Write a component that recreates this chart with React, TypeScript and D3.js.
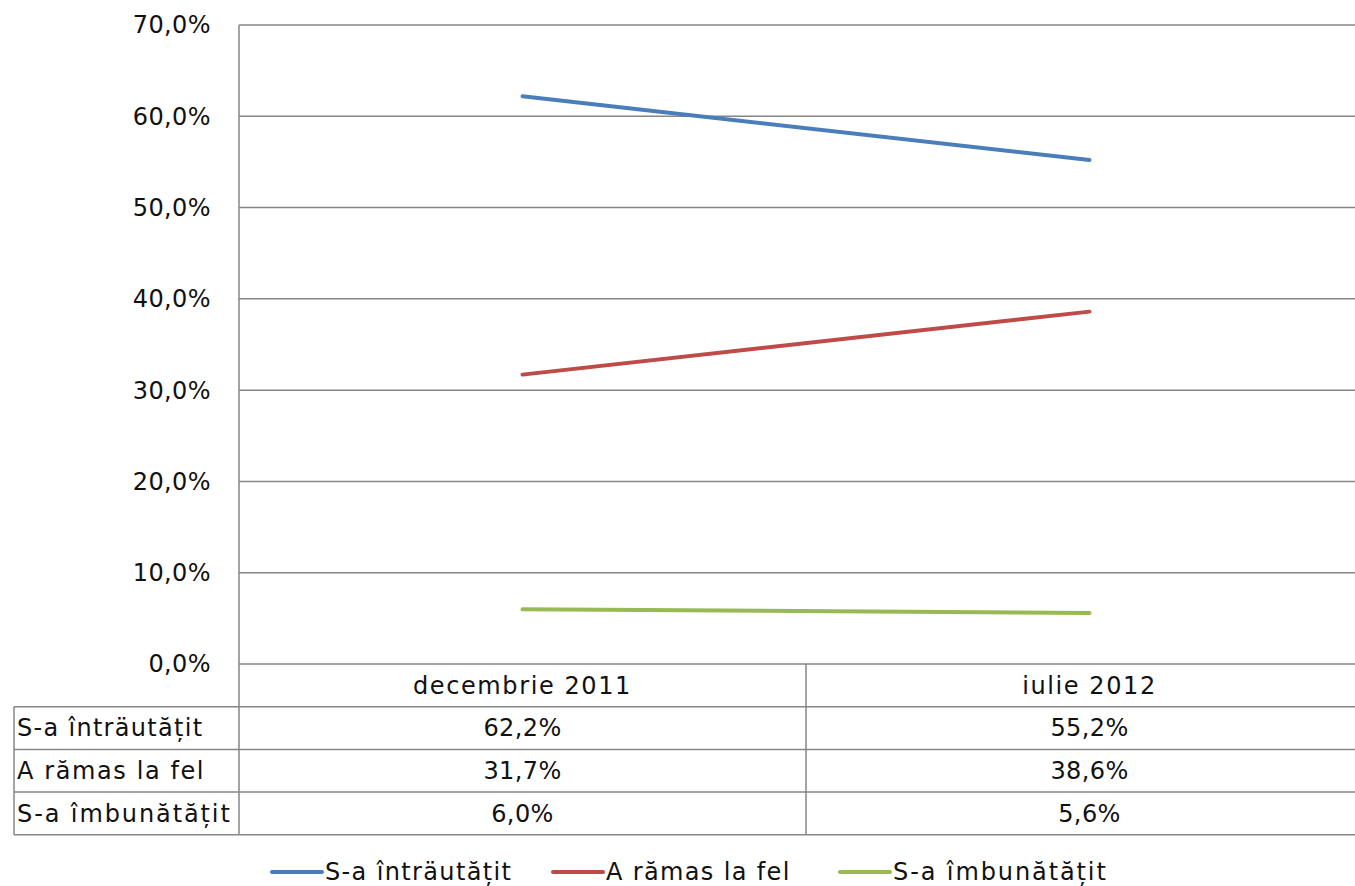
import React from "react";
import * as d3 from "d3";

const categories = ["decembrie 2011", "iulie 2012"];
const seriesNames = ["S-a înträutățit", "A rămas la fel", "S-a îmbunătățit"];
const tableNames = ["S-a înträutățit", "A rămas la fel", "S-a îmbunătățit"];
const worse = [62.2, 55.2];
const same = [31.7, 38.6];
const better = [6.0, 5.6];
const yTicks = [0, 10, 20, 30, 40, 50, 60, 70];
const colors = ["#4a7ebb", "#be4b48", "#98b954"];

const W = 1355;
const H = 886;
const left = 239;
const right = 1373;
const top = 25;
const bottom = 664;
const rowH = 42.7;
const tableLeft = 14;
const FONT = "'DejaVu Sans', sans-serif";
const grid = "#868686";
const FS = 24;
const WORD_LS = 1.6;
const NUM_LS = 0.4;

export default function App() {
  const series = [worse, same, better];
  const x = d3.scaleBand<string>().domain(categories).range([left, right]);
  const y = d3.scaleLinear().domain([0, 70]).range([bottom, top]);
  const line = d3
    .line<number>()
    .x((_, i) => (x(categories[i]) as number) + x.bandwidth() / 2)
    .y((d) => y(d));
  const fmt = (v: number) => v.toFixed(1).replace(".", ",") + "%";
  const tableBottom = bottom + rowH * 4;
  const legendItems = [
    { x: 272, name: seriesNames[0], ls: 1.36 },
    { x: 553, name: seriesNames[1], ls: 1.36 },
    { x: 840, name: seriesNames[2], ls: 1.9 },
  ];
  return (
    <svg
      width={W}
      height={H}
      style={{ position: "absolute", left: 0, top: 0, background: "#fff" }}
      fontFamily={FONT}
    >
      {yTicks.map((t) => (
        <g key={t}>
          <line x1={left} x2={right} y1={y(t)} y2={y(t)} stroke={grid} strokeWidth={1.5} />
          <text x={211} y={y(t)} dy="0.35em" textAnchor="end" fontSize={FS} letterSpacing={NUM_LS} fill="#111">
            {fmt(t)}
          </text>
        </g>
      ))}
      <line x1={left} x2={left} y1={top} y2={tableBottom} stroke={grid} strokeWidth={1.5} />
      {categories.slice(1).map((c) => (
        <line
          key={c}
          x1={x(c) as number}
          x2={x(c) as number}
          y1={bottom}
          y2={tableBottom}
          stroke={grid}
          strokeWidth={1.5}
        />
      ))}
      {[1, 2, 3, 4].map((r) => (
        <line
          key={r}
          x1={tableLeft}
          x2={right}
          y1={bottom + rowH * r}
          y2={bottom + rowH * r}
          stroke={grid}
          strokeWidth={1.5}
        />
      ))}
      <line x1={tableLeft} x2={tableLeft} y1={bottom + rowH} y2={tableBottom} stroke={grid} strokeWidth={1.5} />
      {categories.map((c) => (
        <text
          key={c}
          x={(x(c) as number) + x.bandwidth() / 2}
          y={bottom + rowH / 2}
          dy="0.35em"
          textAnchor="middle"
          fontSize={FS}
          letterSpacing={WORD_LS}
          fill="#111"
        >
          {c}
        </text>
      ))}
      {series.map((s, si) => (
        <g key={si}>
          <text
            x={17}
            y={bottom + rowH * (si + 1.5)}
            dy="0.35em"
            fontSize={FS}
            letterSpacing={si === 2 ? 1.9 : si === 0 ? 1.3 : WORD_LS}
            fill="#111"
          >
            {tableNames[si]}
          </text>
          {s.map((v, i) => (
            <text
              key={i}
              x={(x(categories[i]) as number) + x.bandwidth() / 2}
              y={bottom + rowH * (si + 1.5)}
              dy="0.35em"
              textAnchor="middle"
              fontSize={FS}
              letterSpacing={NUM_LS}
              fill="#111"
            >
              {fmt(v)}
            </text>
          ))}
        </g>
      ))}
      {series.map((s, si) => (
        <path key={si} d={line(s) as string} fill="none" stroke={colors[si]} strokeWidth={4} strokeLinecap="round" />
      ))}
      {legendItems.map((l, i) => (
        <g key={i}>
          <line x1={l.x} x2={l.x + 50} y1={872} y2={872} stroke={colors[i]} strokeWidth={4} strokeLinecap="round" />
          <text x={l.x + 53} y={872} dy="0.35em" fontSize={FS} letterSpacing={l.ls} fill="#111">
            {l.name}
          </text>
        </g>
      ))}
    </svg>
  );
}
